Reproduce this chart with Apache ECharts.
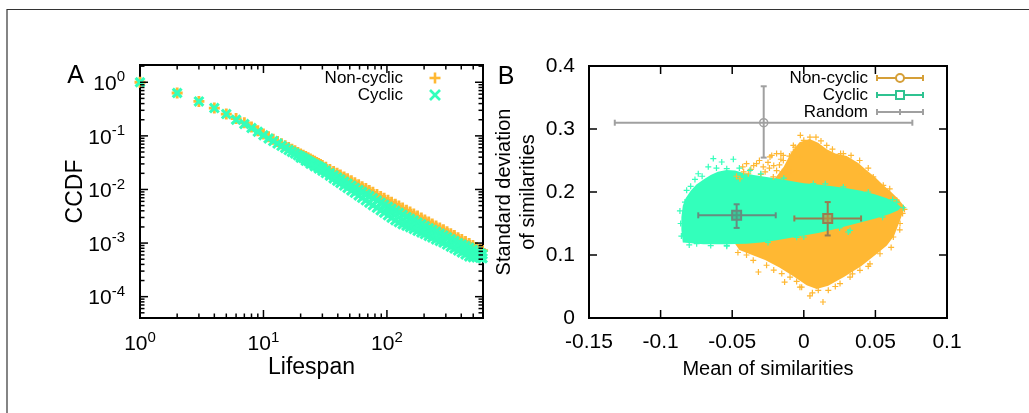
<!DOCTYPE html>
<html>
<head>
<meta charset="utf-8">
<script src="https://cdn.jsdelivr.net/npm/echarts@6/dist/echarts.min.js"></script>
<style>
html, body { margin: 0; padding: 0; background: #fff; }
#chart { width: 1029px; height: 413px; }
</style>
</head>
<body>
<div id="chart"></div>
<script>
// ---- panel A : CCDF of lifespan, [lifespan, ccdf] ----
const nonCyclicCcdf = [
  [1,1.0],[2,0.63],[3,0.44],[4,0.33],[5,0.255],[6,0.21],[7,0.175],[8,0.147],[9,0.125],[10,0.108],
  [11,0.096],[12,0.0863],[13,0.0782],[14,0.0715],[15,0.0657],[16,0.0607],[17,0.0563],[18,0.0525],[19,0.0491],[20,0.0461],
  [21,0.0435],[22,0.0411],[23,0.0389],[24,0.0369],[25,0.0351],[26,0.0335],[27,0.032],[28,0.0306],[29,0.0293],[30,0.0281],
  [32,0.026],[34.5,0.0237],[37,0.0217],[39.5,0.0201],[42,0.0186],[45,0.0171],[48,0.0158],[51.5,0.0145],[55,0.0134],[59,0.0123],
  [63,0.0113],[67.5,0.0104],[72,0.00961],[77,0.00885],[83,0.00807],[89,0.00741],[95,0.00684],[102,0.00627],[109,0.00578],[117,0.0053],
  [125,0.00489],[134,0.00449],[144,0.00411],[154,0.00379],[165,0.00348],[177,0.00319],[190,0.00293],[203,0.0027],[218,0.00247],[233,0.00228],
  [250,0.00209],[268,0.00192],[287,0.00177],[307,0.00163],[329,0.00149],[352,0.00138],[377,0.00126],[404,0.00116],[433,0.00107],[464,0.000981],
  [497,0.000902],[532,0.00083],[570,0.000762],[595,0.000723]
];
const cyclicCcdfUpper = [
  [1,1.0],[2,0.63],[3,0.44],[4,0.33],[5,0.255],[6,0.2],[7,0.167],[8,0.14],[9,0.119],[10,0.103],
  [11,0.0896],[12,0.0798],[13,0.0717],[14,0.0651],[15,0.0593],[16,0.0543],[17,0.0502],[18,0.0468],[19,0.0437],[20,0.0411],
  [21,0.0385],[22,0.0362],[23,0.0341],[24,0.0322],[25,0.0305],[26,0.0292],[27,0.0279],[28,0.0267],[29,0.0255],[30,0.0245],
  [32,0.0224],[34.5,0.0201],[37,0.0183],[39.5,0.0167],[42,0.0154],[45,0.014],[48,0.0128],[51.5,0.0117],[55,0.0107],[59,0.00974],
  [63,0.00895],[67.5,0.00816],[72,0.00752],[77,0.00687],[83,0.00622],[89,0.00568],[95,0.00521],[102,0.00476],[109,0.00436],[117,0.00399],
  [125,0.00367],[134,0.00337],[144,0.00308],[154,0.00285],[165,0.00263],[177,0.00242],[190,0.00224],[203,0.00207],[218,0.0019],[233,0.00176],
  [250,0.00163],[268,0.0015],[287,0.00139],[307,0.00128],[329,0.00118],[352,0.00109],[377,0.000998],[404,0.000943],[433,0.00088],[464,0.000816],
  [497,0.00075],[532,0.000698],[570,0.000648],[595,0.000615]
];
const cyclicCcdfLower = [
  [20,0.0392],[22,0.0342],[24,0.0303],[26,0.0272],[28,0.0246],
  [30,0.0223],[32,0.0202],[34.5,0.018],[37,0.0161],[39.5,0.0145],[42,0.0132],[45,0.0118],[48,0.0107],[51.5,0.00958],[55,0.00864],
  [59,0.00774],[63,0.00698],[67.5,0.00627],[72,0.00566],[77,0.00509],[83,0.00454],[89,0.00408],[95,0.00367],[102,0.00329],[109,0.00297],
  [117,0.00266],[125,0.00245],[134,0.00225],[144,0.00211],[154,0.00197],[165,0.00183],[177,0.00169],[190,0.00157],[203,0.00147],[218,0.00136],
  [233,0.00127],[250,0.00117],[268,0.00109],[287,0.00102],[307,0.000937],[329,0.000857],[352,0.000794],[377,0.000725],[404,0.000667],[433,0.000615],
  [464,0.000564],[497,0.000545],[532,0.00054],[570,0.00053],[595,0.00052]
];
const lifespanMajor = [1, 10, 100];
const lifespanMinor = [2,3,4,5,6,7,8,9,20,30,40,50,60,70,80,90,200,300,400,500];
const ccdfMajor = [0.0001, 0.001, 0.01, 0.1, 1];
const ccdfMinor = [
  0.00005,0.00006,0.00007,0.00008,0.00009,
  0.0002,0.0003,0.0004,0.0005,0.0006,0.0007,0.0008,0.0009,
  0.002,0.003,0.004,0.005,0.006,0.007,0.008,0.009,
  0.02,0.03,0.04,0.05,0.06,0.07,0.08,0.09,
  0.2,0.3,0.4,0.5,0.6,0.7,0.8,0.9,2
];

// ---- panel B : mean vs standard deviation of similarities ----
const nonCyclicCloud = [
  [-0.048,0.118],[-0.04,0.2],[-0.02,0.222],[-0.014,0.24],[-0.009,0.262],[-0.003,0.279],[0.004,0.284],[0.01,0.278],
  [0.016,0.268],[0.022,0.261],[0.03,0.257],[0.038,0.246],[0.043,0.236],[0.05,0.223],[0.055,0.212],[0.061,0.2],
  [0.066,0.189],[0.0705,0.176],[0.068,0.16],[0.066,0.148],[0.063,0.13],[0.058,0.115],[0.051,0.102],[0.04,0.082],
  [0.028,0.065],[0.017,0.051],[0.009,0.046],[0.002,0.052],[-0.007,0.066],[-0.017,0.08],[-0.027,0.092],[-0.036,0.1],
  [-0.045,0.108]
];
const nonCyclicStray = [
  [-0.0024,0.29],[0.0085,0.287],[0.0043,0.287],[0.0036,0.277],[-0.006,0.271],[-0.0073,0.2635],[-0.0027,0.2556],[-0.016,0.261],
  [-0.019,0.261],[-0.0224,0.258],[-0.0143,0.258],[-0.0236,0.2556],[-0.0143,0.25],[-0.033,0.245],[-0.04,0.245],[-0.0427,0.24],
  [-0.035,0.242],[-0.021,0.242],[-0.0283,0.24],[-0.019,0.234],[-0.0388,0.229],[-0.0446,0.221],[-0.0213,0.224],[-0.012,0.2265],
  [-0.0073,0.274],[0.016,0.274],[0.0257,0.261],[0.0276,0.261],[0.039,0.25],[0.0404,0.229],[0.0485,0.224],[0.0514,0.213],
  [0.0555,0.2106],[0.0587,0.195],[0.0649,0.187],[0.0703,0.1725],[0.0672,0.15],[0.0625,0.1286],[0.0532,0.102],[0.0462,0.086],
  [0.0392,0.0757],[0.0323,0.065],[0.0253,0.0546],[0.0171,0.044],[0.0101,0.044],[0.0134,0.0254],[0.0043,0.035],[-0.0027,0.049],
  [-0.0096,0.065],[-0.0134,0.057],[-0.0154,0.0705],[-0.0317,0.073],[-0.026,0.0837],[-0.0353,0.0916],[-0.0015,0.049],
  [-0.042,0.232],[-0.037,0.236],[-0.031,0.25],[-0.027,0.232],[-0.025,0.247],[-0.017,0.243],[-0.015,0.232],[-0.011,0.24],
  [-0.009,0.232],[-0.03,0.228],[-0.047,0.225],[-0.024,0.238],[-0.016,0.252],[-0.01,0.257],[0.0,0.282],[0.012,0.281],
  [0.02,0.268],[0.033,0.258],[0.045,0.238],[0.06,0.205],[0.069,0.166],[0.067,0.14],[0.061,0.112],[0.045,0.082],
  [0.034,0.07],[0.022,0.05],[0.006,0.04],[-0.005,0.058],[-0.021,0.076],[-0.04,0.1],[-0.046,0.104]
];
const cyclicCloud = [
  [-0.0845,0.12],[-0.0855,0.14],[-0.0855,0.16],[-0.0845,0.178],[-0.0825,0.19],[-0.079,0.202],[-0.075,0.212],[-0.07,0.22],
  [-0.065,0.227],[-0.06,0.232],[-0.054,0.235],[-0.048,0.234],[-0.042,0.23],[-0.035,0.227],[-0.026,0.224],[-0.018,0.221],
  [-0.01,0.218],[0,0.214],[0.01,0.212],[0.02,0.209],[0.03,0.206],[0.04,0.202],[0.05,0.196],[0.058,0.19],
  [0.064,0.183],[0.068,0.176],[0.066,0.171],[0.06,0.165],[0.05,0.158],[0.04,0.152],[0.03,0.146],[0.02,0.14],
  [0.01,0.135],[0,0.131],[-0.01,0.127],[-0.02,0.123],[-0.03,0.12],[-0.04,0.118],[-0.055,0.117],[-0.07,0.117]
];
const cyclicStray = [
  [-0.0632,0.253],[-0.0492,0.252],[-0.0573,0.2476],[-0.0667,0.24],[-0.0538,0.237],[-0.0737,0.229],[-0.076,0.22],[-0.0376,0.2344],
  [-0.0818,0.2027],[-0.083,0.184],[-0.0538,0.1154],[-0.0748,0.118],[-0.0538,0.114],[0.0695,0.175],[0.0649,0.184],[0.0276,0.208],
  [0.0066,0.2133],[0.0323,0.139],[0,0.1286],[0.031,0.1365],[-0.086,0.15],[-0.0855,0.13],
  [-0.079,0.209],[-0.071,0.225],[-0.061,0.238],[-0.045,0.238],[-0.03,0.229],[-0.014,0.222],[0.015,0.213],[0.045,0.2],
  [0.062,0.188],[0.055,0.16],[0.025,0.143],[-0.005,0.128],[-0.025,0.12],[-0.065,0.115],[-0.08,0.116],[-0.0865,0.17]
];
// [mean, sd, meanLow, meanHigh, sdLow, sdHigh]
const nonCyclicErr = [0.0167, 0.158, -0.0066, 0.040, 0.131, 0.184];
const cyclicErr = [-0.0469, 0.163, -0.0737, -0.0196, 0.143, 0.1805];
const randomErr = [-0.028, 0.31, -0.132, 0.0758, 0.2546, 0.3678];
const meanTicks = [-0.1, -0.05, 0, 0.05];
const sdTicks = [0.1, 0.2, 0.3];

const FONT = 'Liberation Sans';
const ORANGE = '#ffb833';
const TEAL = '#33ffbb';
const plusPath = 'path://M3.7,0h2.6v3.7h3.7v2.6h-3.7v3.7h-2.6v-3.7h-3.7v-2.6h3.7z';
const crossPath = 'path://M0,2L2,0L5,3L8,0L10,2L7,5L10,8L8,10L5,7L2,10L0,8L3,5Z';
const smallPlus = 'path://M2,0h1v2h2v1h-2v2h-1v-2h-2v-1h2z';

function powLabel(v) {
  const k = Math.round(Math.log10(v));
  if (Math.abs(Math.log10(v) - k) > 1e-6) return '';
  return '{b|10}{s|' + k + '}';
}
const powRich = {
  b: { fontSize: 21, fontFamily: FONT, color: '#000', verticalAlign: 'bottom', lineHeight: 25 },
  s: { fontSize: 15, fontFamily: FONT, color: '#000', verticalAlign: 'top', lineHeight: 25 }
};

// ticks on all four sides of a grid
function tickSeries(gi, values, dir, len, ref) {
  return {
    type: 'custom', xAxisIndex: gi, yAxisIndex: gi, silent: true, z: 5,
    data: values.map(v => dir === 'x' ? [v, ref] : [ref, v]),
    renderItem: function (params, api) {
      const cs = params.coordSys;
      const st = { stroke: '#000', lineWidth: 1.5 };
      if (dir === 'x') {
        const px = api.coord([api.value(0), api.value(1)])[0];
        return { type: 'group', children: [
          { type: 'line', shape: { x1: px, y1: cs.y + cs.height, x2: px, y2: cs.y + cs.height - len }, style: st },
          { type: 'line', shape: { x1: px, y1: cs.y, x2: px, y2: cs.y + len }, style: st }
        ] };
      }
      const py = api.coord([api.value(0), api.value(1)])[1];
      return { type: 'group', children: [
        { type: 'line', shape: { x1: cs.x, y1: py, x2: cs.x + len, y2: py }, style: st },
        { type: 'line', shape: { x1: cs.x + cs.width, y1: py, x2: cs.x + cs.width - len, y2: py }, style: st }
      ] };
    }
  };
}

function cloudSeries(points, color) {
  return {
    type: 'custom', xAxisIndex: 1, yAxisIndex: 1, silent: true,
    data: points,
    renderItem: function (params, api) {
      if (params.dataIndex !== 0) return { type: 'group', children: [] };
      return { type: 'polygon', shape: { points: points.map(p => api.coord(p)) }, style: { fill: color } };
    }
  };
}

function errSeries(rec, color, marker, fill) {
  return {
    type: 'custom', xAxisIndex: 1, yAxisIndex: 1, silent: true, z: 6,
    data: [rec],
    renderItem: function (params, api) {
      const c = api.coord([api.value(0), api.value(1)]);
      const xl = api.coord([api.value(2), api.value(1)])[0];
      const xh = api.coord([api.value(3), api.value(1)])[0];
      const yl = api.coord([api.value(0), api.value(4)])[1];
      const yh = api.coord([api.value(0), api.value(5)])[1];
      const st = { stroke: color, lineWidth: 2 };
      const cap = 3;
      const ch = [
        { type: 'line', shape: { x1: xl, y1: c[1], x2: xh, y2: c[1] }, style: st },
        { type: 'line', shape: { x1: xl, y1: c[1] - cap, x2: xl, y2: c[1] + cap }, style: st },
        { type: 'line', shape: { x1: xh, y1: c[1] - cap, x2: xh, y2: c[1] + cap }, style: st },
        { type: 'line', shape: { x1: c[0], y1: yl, x2: c[0], y2: yh }, style: st },
        { type: 'line', shape: { x1: c[0] - cap, y1: yl, x2: c[0] + cap, y2: yl }, style: st },
        { type: 'line', shape: { x1: c[0] - cap, y1: yh, x2: c[0] + cap, y2: yh }, style: st }
      ];
      if (marker === 'circle') {
        ch.push({ type: 'circle', shape: { cx: c[0], cy: c[1], r: 4 }, style: { stroke: color, lineWidth: 1.5, fill: 'none' } });
      } else {
        ch.push({ type: 'rect', shape: { x: c[0] - 4.5, y: c[1] - 4.5, width: 9, height: 9 }, style: { stroke: color, lineWidth: 2, fill: fill } });
      }
      return { type: 'group', children: ch };
    }
  };
}

const axisName = (size) => ({ fontSize: size, fontFamily: FONT, color: '#000' });
const plainLabel = { fontSize: 21, fontFamily: FONT, color: '#000' };

// legend keys drawn as graphics
function legendLine(y, color, marker) {
  const st = { stroke: color, lineWidth: 2 };
  const els = [
    { type: 'line', shape: { x1: 877, y1: y, x2: 923, y2: y }, style: st },
    { type: 'line', shape: { x1: 877, y1: y - 3, x2: 877, y2: y + 3 }, style: st },
    { type: 'line', shape: { x1: 923, y1: y - 3, x2: 923, y2: y + 3 }, style: st }
  ];
  if (marker === 'circle') els.push({ type: 'circle', shape: { cx: 900, cy: y, r: 4 }, style: { stroke: color, lineWidth: 2, fill: '#fff' } });
  else if (marker === 'square') els.push({ type: 'rect', shape: { x: 896, y: y - 4, width: 8, height: 8 }, style: { stroke: color, lineWidth: 2, fill: '#fff' } });
  else els.push({ type: 'line', shape: { x1: 900, y1: y - 3, x2: 900, y2: y + 3 }, style: st });
  return els;
}
function legendText(x, y, t) {
  return { type: 'text', x: x, y: y, style: { text: t, fontSize: 17, fontFamily: FONT, fill: '#000', textAlign: 'right', textVerticalAlign: 'middle' } };
}
function legendMark(cx, cy, color, kind) {
  const st = { stroke: color, lineWidth: 2.6 };
  if (kind === 'plus') return [
    { type: 'line', shape: { x1: cx - 5.5, y1: cy, x2: cx + 5.5, y2: cy }, style: st },
    { type: 'line', shape: { x1: cx, y1: cy - 5.5, x2: cx, y2: cy + 5.5 }, style: st }
  ];
  return [
    { type: 'line', shape: { x1: cx - 5, y1: cy - 5, x2: cx + 5, y2: cy + 5 }, style: st },
    { type: 'line', shape: { x1: cx - 5, y1: cy + 5, x2: cx + 5, y2: cy - 5 }, style: st }
  ];
}

const solid = (c) => ({ color: c, opacity: 1 });

const chart = echarts.init(document.getElementById('chart'));
chart.setOption({
  animation: false,
  backgroundColor: '#fff',
  grid: [
    { left: 140, top: 65, width: 343, height: 253, show: true, borderColor: '#000', borderWidth: 2, backgroundColor: 'transparent' },
    { left: 589, top: 66, width: 358, height: 252, show: true, borderColor: '#000', borderWidth: 2, backgroundColor: 'transparent' }
  ],
  xAxis: [
    { gridIndex: 0, type: 'log', logBase: 10, min: 1, max: 600,
      axisLine: { show: false }, axisTick: { show: false }, splitLine: { show: false }, minorTick: { show: false },
      axisLabel: { formatter: powLabel, rich: powRich, margin: 12, fontSize: 21, fontFamily: FONT, color: '#000' },
      name: 'Lifespan', nameLocation: 'middle', nameGap: 38, nameMoveOverlap: false, nameTextStyle: axisName(23) },
    { gridIndex: 1, type: 'value', min: -0.15, max: 0.1, interval: 0.05,
      axisLine: { show: false }, axisTick: { show: false }, splitLine: { show: false },
      axisLabel: Object.assign({ margin: 14 }, plainLabel),
      name: 'Mean of similarities', nameLocation: 'middle', nameGap: 41, nameMoveOverlap: false, nameTextStyle: axisName(20) }
  ],
  yAxis: [
    { gridIndex: 0, type: 'log', logBase: 10, min: 0.00004, max: 2.1,
      axisLine: { show: false }, axisTick: { show: false }, splitLine: { show: false }, minorTick: { show: false },
      axisLabel: { formatter: powLabel, rich: powRich, margin: 15, fontSize: 21, fontFamily: FONT, color: '#000' },
      name: 'CCDF', nameLocation: 'middle', nameGap: 53, nameMoveOverlap: false, nameTextStyle: axisName(23) },
    { gridIndex: 1, type: 'value', min: 0, max: 0.4, interval: 0.1,
      axisLine: { show: false }, axisTick: { show: false }, splitLine: { show: false },
      axisLabel: Object.assign({ margin: 14 }, plainLabel),
      name: 'Standard deviation\nof similarities', nameLocation: 'middle', nameGap: 48, nameMoveOverlap: false,
      nameTextStyle: Object.assign({ lineHeight: 24.5 }, axisName(20)) }
  ],
  series: [
    { type: 'scatter', name: 'Non-cyclic', xAxisIndex: 0, yAxisIndex: 0, data: nonCyclicCcdf,
      symbol: plusPath, symbolSize: 11, itemStyle: solid(ORANGE), clip: false, silent: true },
    { type: 'scatter', name: 'Cyclic', xAxisIndex: 0, yAxisIndex: 0, data: cyclicCcdfUpper.concat(cyclicCcdfLower),
      symbol: crossPath, symbolSize: 11, itemStyle: solid(TEAL), clip: false, silent: true },
    tickSeries(0, lifespanMajor, 'x', 8, 1),
    tickSeries(0, lifespanMinor, 'x', 4.5, 1),
    tickSeries(0, ccdfMajor, 'y', 8, 1),
    tickSeries(0, ccdfMinor, 'y', 4.5, 1),

    cloudSeries(nonCyclicCloud, ORANGE),
    { type: 'scatter', xAxisIndex: 1, yAxisIndex: 1, data: nonCyclicStray, symbol: smallPlus, symbolSize: 6,
      itemStyle: solid(ORANGE), silent: true },
    cloudSeries(cyclicCloud, TEAL),
    { type: 'scatter', xAxisIndex: 1, yAxisIndex: 1, data: cyclicStray, symbol: smallPlus, symbolSize: 6,
      itemStyle: solid(TEAL), silent: true },
    errSeries(randomErr, '#a0a0a0', 'circle'),
    errSeries(cyclicErr, '#668d80', 'square', 'rgba(60,170,135,0.6)'),
    errSeries(nonCyclicErr, '#977d52', 'square', 'rgba(200,150,60,0.6)'),
    tickSeries(1, meanTicks, 'x', 8, 0.2),
    tickSeries(1, sdTicks, 'y', 8, 0)
  ],
  graphic: [
    { type: 'line', shape: { x1: 7, y1: 9.5, x2: 1029, y2: 9.5 }, style: { stroke: '#333', lineWidth: 1.2 } },
    { type: 'line', shape: { x1: 7, y1: 9, x2: 7, y2: 413 }, style: { stroke: '#333', lineWidth: 1.2 } },
    { type: 'text', x: 75.5, y: 76, style: { text: 'A', fontSize: 25, fontFamily: FONT, fill: '#000', textAlign: 'center', textVerticalAlign: 'middle' } },
    { type: 'text', x: 506, y: 77, style: { text: 'B', fontSize: 25, fontFamily: FONT, fill: '#000', textAlign: 'center', textVerticalAlign: 'middle' } },
    legendText(403, 78, 'Non-cyclic'),
    legendText(403, 95, 'Cyclic'),
    legendText(868, 78, 'Non-cyclic'),
    legendText(868, 95, 'Cyclic'),
    legendText(868, 112, 'Random')
  ].concat(
    legendMark(435, 78, ORANGE, 'plus'), legendMark(435, 95, TEAL, 'cross'),
    legendLine(78, '#d59f38', 'circle'), legendLine(95, '#2fc391', 'square'), legendLine(112, '#a0a0a0', 'tick'))
});
</script>
</body>
</html>
